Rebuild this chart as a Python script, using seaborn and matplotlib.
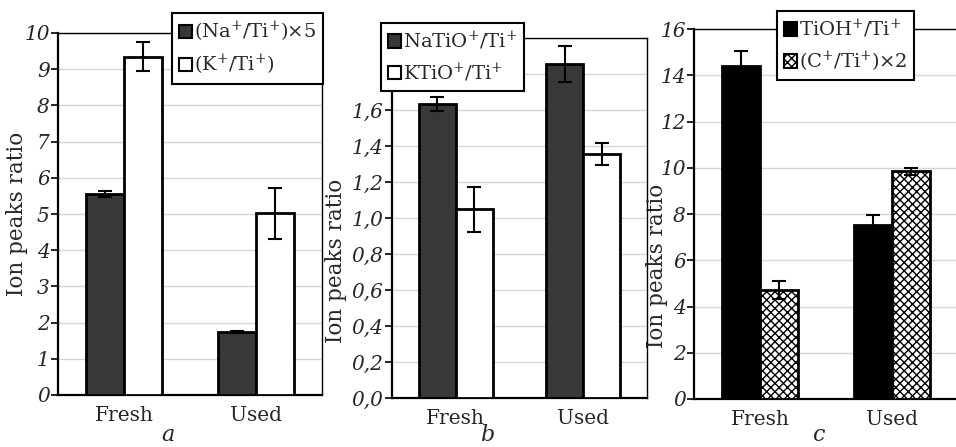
import numpy as np
import pandas as pd
import matplotlib
matplotlib.use('Agg')
import matplotlib.pyplot as plt
from matplotlib.patches import Patch
import seaborn as sns

# %% data
samples = ['Fresh', 'Used']

a_series = [r'(Na$^{+}$/Ti$^{+}$)×5', r'(K$^{+}$/Ti$^{+}$)']
a_na = [5.55, 1.74]
a_na_err = [0.08, 0.03]
a_k = [9.35, 5.02]
a_k_err = [0.40, 0.70]

b_series = [r'NaTiO$^{+}$/Ti$^{+}$', r'KTiO$^{+}$/Ti$^{+}$']
b_na = [1.635, 1.855]
b_na_err = [0.04, 0.10]
b_k = [1.05, 1.355]
b_k_err = [0.125, 0.06]

c_series = [r'TiOH$^{+}$/Ti$^{+}$', r'(C$^{+}$/Ti$^{+}$)×2']
c_tioh = [14.39, 7.52]
c_tioh_err = [0.65, 0.45]
c_c = [4.72, 9.84]
c_c_err = [0.40, 0.15]

a_ticks = [0, 1, 2, 3, 4, 5, 6, 7, 8, 9, 10]
a_labels = [str(t) for t in a_ticks]
b_ticks = [0.0, 0.2, 0.4, 0.6, 0.8, 1.0, 1.2, 1.4, 1.6, 1.8, 2.0]
b_labels = ['0,0', '0,2', '0,4', '0,6', '0,8', '1,0', '1,2', '1,4', '1,6', '', '']
c_ticks = [0, 2, 4, 6, 8, 10, 12, 14, 16]
c_labels = [str(t) for t in c_ticks]

# %% style
sns.set_theme(style='white')
plt.rcParams['font.family'] = ['DejaVu Serif']
plt.rcParams['mathtext.fontset'] = 'dejavuserif'
plt.rcParams['mathtext.default'] = 'regular'
plt.rcParams['hatch.linewidth'] = 1.0
fs_tick = 14.5
fs_leg = 14
fs_lab = 15.5

W, H = 956, 447
fig = plt.figure(figsize=(W / 100, H / 100), dpi=100)


def px_axes(left, top, right, bottom):
    return fig.add_axes([left / W, 1 - bottom / H, (right - left) / W, (bottom - top) / H])


def panel(ax, series, v1, e1, v2, e2, colors, hatches, ticks, labels, leg_xy, ylab_xy):
    df = pd.DataFrame({'sample': samples * 2,
                       'series': [series[0]] * 2 + [series[1]] * 2,
                       'value': v1 + v2})
    sns.barplot(data=df, x='sample', y='value', hue='series', order=samples,
                hue_order=series, palette=colors, width=0.58, gap=0,
                errorbar=None, legend=False, edgecolor='black', linewidth=2,
                saturation=1, ax=ax, zorder=3)
    for cont, err, h in zip(ax.containers, [e1, e2], hatches):
        xs = [p.get_x() + p.get_width() / 2 for p in cont.patches]
        ys = [p.get_height() for p in cont.patches]
        ax.errorbar(xs, ys, yerr=err, fmt='none', ecolor='black', elinewidth=1.5,
                    capsize=5, capthick=1.5, zorder=4)
        if h:
            for p in cont.patches:
                p.set_hatch(h)

    ax.set_xlim(-0.5, 1.5)
    ax.set_ylim(ticks[0], ticks[-1])
    ax.set_yticks(ticks)
    ax.set_yticklabels(labels, fontstyle='italic', fontsize=fs_tick)
    ax.set_xticks([0, 1])
    ax.set_xticklabels(samples, fontsize=fs_tick)
    ax.set_xticks([0.5], minor=True)
    ax.tick_params(axis='x', which='major', length=0, pad=8)
    ax.tick_params(axis='x', which='minor', length=6, width=1.5, direction='out', color='black')
    ax.tick_params(axis='y', length=5, width=1.2, direction='out', color='black', left=True, pad=1)
    ax.set_xlabel('')
    ax.set_ylabel('Ion peaks ratio', fontsize=fs_lab)
    ax.yaxis.set_label_coords(*ylab_xy)
    ax.grid(axis='y', color='#d6d6d6', lw=1)
    ax.set_axisbelow(True)
    for s in ['top', 'right']:
        ax.spines[s].set_linewidth(1)
        ax.spines[s].set_color('black')
    for s in ['left', 'bottom']:
        ax.spines[s].set_linewidth(1.6)
        ax.spines[s].set_color('black')

    handles = [Patch(facecolor=colors[i], edgecolor='black', hatch=hatches[i],
                     linewidth=1.5, label=series[i]) for i in range(2)]
    leg = ax.legend(handles=handles, loc='upper left',
                    bbox_to_anchor=(leg_xy[0] / W, 1 - leg_xy[1] / H),
                    bbox_transform=fig.transFigure, frameon=True, fancybox=False,
                    edgecolor='black', framealpha=1, fontsize=fs_leg,
                    handlelength=0.7, handleheight=0.7, handletextpad=0.1,
                    labelspacing=0.45, borderpad=0.35, borderaxespad=0)
    leg.get_frame().set_linewidth(1.5)
    leg.set_zorder(10)


# %% panel a
ax_a = px_axes(58, 33, 322, 395)
panel(ax_a, a_series, a_na, a_na_err, a_k, a_k_err, ['#383838', 'white'], [None, None],
      a_ticks, a_labels, (172, 13), (-0.112, 0.5))

# %% panel b
ax_b = px_axes(392, 38, 647, 398)
panel(ax_b, b_series, b_na, b_na_err, b_k, b_k_err, ['#383838', 'white'], [None, None],
      b_ticks, b_labels, (381, 23), (-0.176, 0.38))

# %% panel c
ax_c = px_axes(694, 29, 958, 399)
panel(ax_c, c_series, c_tioh, c_tioh_err, c_c, c_c_err, ['black', 'white'], [None, 'xxxx'],
      c_ticks, c_labels, (777, 11), (-0.098, 0.36))

for x, y, s in [(168, 441, 'a'), (487, 441, 'b'), (818, 441, 'c')]:
    fig.text(x / W, 1 - y / H, s, ha='center', va='baseline', fontsize=16,
             fontstyle='italic')

fig.savefig('out.png', dpi=100)
